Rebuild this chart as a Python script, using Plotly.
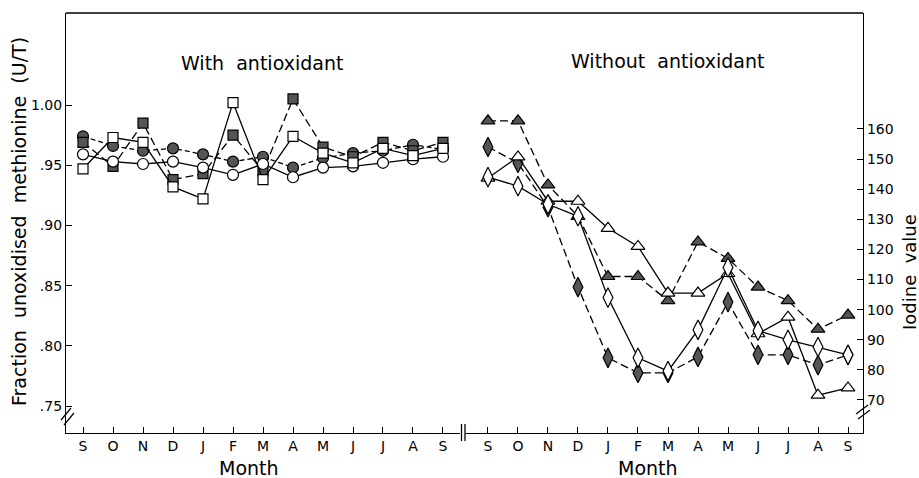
import plotly.graph_objects as go

months = ["S", "O", "N", "D", "J", "F", "M", "A", "M", "J", "J", "A", "S"]
idx = list(range(len(months)))

# With antioxidant: fraction unoxidised methionine (U/T)
with_open_circle = [0.959, 0.953, 0.951, 0.953, 0.948, 0.942, 0.951, 0.940, 0.948, 0.949, 0.952, 0.955, 0.957]
with_open_square = [0.947, 0.973, 0.969, 0.932, 0.922, 1.002, 0.938, 0.974, 0.960, 0.952, 0.964, 0.958, 0.964]
with_filled_square = [0.969, 0.949, 0.985, 0.938, 0.943, 0.975, 0.945, 1.005, 0.965, 0.957, 0.969, 0.962, 0.969]
with_filled_circle = [0.974, 0.966, 0.962, 0.964, 0.959, 0.953, 0.957, 0.948, 0.956, 0.960, 0.962, 0.967, 0.963]

# Without antioxidant: iodine value
wo_open_triangle = [143.7, 150.7, 136, 136, 127, 121, 105.5, 105.5, 112, 92, 97.5, 71.6, 74]
wo_open_diamond = [144, 141, 135, 131, 104, 84, 79.6, 93.3, 114, 93, 90, 87.6, 85]
wo_filled_triangle = [162.7, 162.7, 141.4, 131, 111, 111, 103, 122.5, 117, 107.5, 103, 93.5, 98.2]
wo_filled_diamond = [154, 148.7, 134, 107.5, 84, 79, 79, 84.3, 102.5, 85, 85, 81.6, 85]

left_tickvals = [0.75, 0.80, 0.85, 0.90, 0.95, 1.00]
left_ticktext = [".75", ".80", ".85", ".90", ".95", "1.00"]
right_tickvals = [70, 80, 90, 100, 110, 120, 130, 140, 150, 160]

FILL = "#555555"
FONT = "DejaVu Sans"

fig = go.Figure()

def add(y, symbol, filled, dash, xa, ya, size=11):
    fig.add_trace(go.Scatter(
        x=idx, y=y, xaxis=xa, yaxis=ya, mode="lines+markers",
        line=dict(color="black", width=1.3, dash=dash),
        marker=dict(symbol=symbol, size=size,
                    color=FILL if filled else "white",
                    line=dict(color="black", width=1.2)),
        showlegend=False, cliponaxis=False, hoverinfo="skip"))

add(with_filled_circle, "circle", True, "5px,3px", "x", "y")
add(with_filled_square, "square", True, "8px,4px", "x", "y", 10)
add(with_open_circle, "circle", False, "solid", "x", "y")
add(with_open_square, "square", False, "solid", "x", "y", 10)

add(wo_filled_triangle, "triangle-up", True, "8px,4px", "x2", "y2", 12)
add(wo_filled_diamond, "diamond-tall", True, "8px,4px", "x2", "y2", 14)
add(wo_open_triangle, "triangle-up", False, "solid", "x2", "y2", 12)
add(wo_open_diamond, "diamond-tall", False, "solid", "x2", "y2", 14)

FW, FH = 919, 478
L, R, T, B = 66, 863, 13, 433
W = R - L
H = B - T

def px(x):
    return (x - L) / W

def py(y):
    return (B - y) / H

axis_common = dict(showline=True, linecolor="black", linewidth=1.3, ticks="inside",
                   ticklen=6, tickwidth=1, tickcolor="black", showgrid=False,
                   zeroline=False, automargin=False,
                   tickfont=dict(family=FONT, size=14, color="black"))

fig.update_layout(
    width=FW, height=FH,
    margin=dict(l=L, r=FW - R, t=T, b=FH - B, autoexpand=False),
    paper_bgcolor="white", plot_bgcolor="white",
    xaxis=dict(domain=[0, px(460)], range=[-0.567, 12.567], tickvals=idx,
               ticktext=months, anchor="y", **axis_common),
    xaxis2=dict(domain=[px(466), 1], range=[-0.733, 12.5], tickvals=idx,
                ticktext=months, anchor="y2", **axis_common),
    yaxis=dict(domain=[0, 1], range=[0.7276, 1.0764], tickvals=left_tickvals,
               ticktext=left_ticktext, anchor="x", **axis_common),
    yaxis2=dict(domain=[0, 1], range=[59.04, 198.5], tickvals=right_tickvals,
                anchor="x2", side="right", **axis_common),
)

def seg(x0, y0, x1, y1, w=1.2):
    return dict(type="line", xref="paper", yref="paper", x0=px(x0), x1=px(x1),
                y0=py(y0), y1=py(y1), line=dict(color="black", width=w))

shapes = [
    dict(type="line", xref="paper", yref="paper", x0=0, x1=1, y0=1, y1=1,
         line=dict(color="black", width=1.3)),
    seg(61, 420, 71, 408), seg(64, 425, 74, 413),
    seg(856, 414, 868, 405), seg(858, 419, 870, 410),
    seg(461.5, 424, 461.5, 441, 1.3), seg(465, 424, 465, 441, 1.3),
]
fig.update_layout(shapes=shapes)

def ann(text, x, y, size, angle=0):
    fig.add_annotation(text=text, xref="paper", yref="paper", x=px(x), y=py(y),
                       showarrow=False, textangle=angle, xanchor="center", yanchor="middle",
                       font=dict(family=FONT, size=size, color="black"))

ann("With  antioxidant", 262, 63, 19)
ann("Without  antioxidant", 668, 61, 19)
ann("Month", 249, 468, 19)
ann("Month", 648, 468, 19)
ann("Fraction  unoxidised  methionine  (U/T)", 19, 222, 19, -90)
ann("Iodine  value", 909, 272, 18, -90)

fig.write_html("out.html", config={"displayModeBar": False},
               post_script="document.body.style.margin='0px';document.body.style.overflow='hidden';")
